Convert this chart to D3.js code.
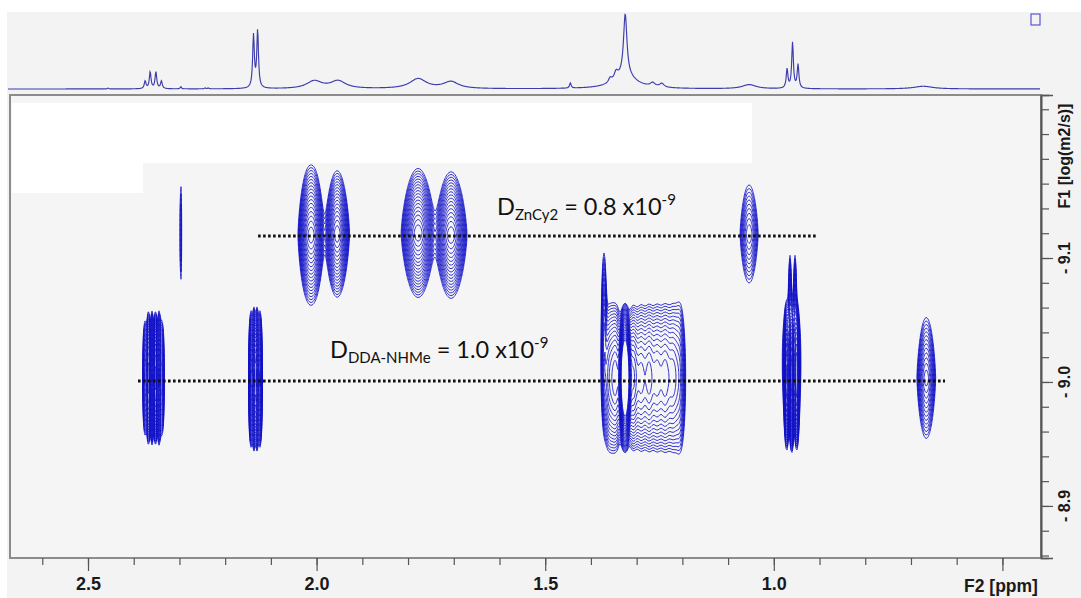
<!DOCTYPE html>
<html>
<head>
<meta charset="utf-8">
<script src="https://cdn.jsdelivr.net/npm/d3@7/dist/d3.min.js"></script>
<style>
  html, body { margin: 0; padding: 0; background: #ffffff; overflow: hidden; }
  svg { display: block; }
  .axlab { font-family: "Liberation Sans", Arial, sans-serif; font-weight: bold; fill: #1a1a1a; }
  .ann { font-family: Lato, "Open Sans", sans-serif; fill: #111; }
</style>
</head>
<body>
<svg id="chart" width="1081" height="598"></svg>
<script>
// ---------------- data ----------------
// F2 axis (ppm)
const f2Ticks = [2.6, 2.5, 2.4, 2.3, 2.2, 2.1, 2.0, 1.9, 1.8, 1.7, 1.6, 1.5, 1.4, 1.3, 1.2, 1.1, 1.0, 0.9, 0.8, 0.7, 0.6, 0.5];
const f2MajorTicks = [2.5, 2.0, 1.5, 1.0, 0.5];
const f2TickLabels = ["2.5", "2.0", "1.5", "1.0", ""];
const f2Title = "F2 [ppm]";
// F1 axis (log D)
const f1Ticks = [-9.22, -9.20, -9.18, -9.16, -9.14, -9.12, -9.10, -9.08, -9.06, -9.04, -9.02, -9.00, -8.98, -8.96, -8.94, -8.92, -8.90, -8.88, -8.86];
const f1MajorTicks = [-9.1, -9.0, -8.9];
const f1TickLabels = ["- 9.1", "- 9.0", "- 8.9"];
const f1Title = "F1 [log(m2/s)]";

// 1D projection spectrum (top trace): peak position (ppm), height (% of max), half width (ppm)
const specPpm    = [2.456, 2.375, 2.364, 2.3515, 2.3395, 2.297, 2.244, 2.237, 2.138, 2.129, 2.005, 1.953, 1.778, 1.706, 1.445,
                    1.358, 1.345, 1.325, 1.325, 1.265, 1.245, 1.054, 0.971, 0.959, 0.947, 0.673];
const specHeight = [1.2, 10, 22, 22, 10, 3, 1.2, 1.2, 69, 75, 10, 10, 13, 9, 7,
                    6, 10, 82, 16, 5, 5, 5.5, 25, 60, 31, 3.5];
const specHwhm   = [0.0015, 0.0022, 0.0022, 0.0022, 0.0022, 0.0015, 0.0015, 0.0015, 0.0022, 0.0022, 0.02, 0.02, 0.022, 0.02, 0.002,
                    0.004, 0.005, 0.0045, 0.03, 0.006, 0.006, 0.018, 0.0022, 0.0022, 0.0022, 0.025];

// DOSY cross peaks: F2 position (ppm), F1 position (log D), contour levels reached,
// outer half width (ppm), outer half span (log D), profile sharpness along F1
const peakPpm       = [2.297, 2.0186, 2.0055, 1.955, 1.778, 1.706, 1.054,
                       2.3753, 2.3677, 2.3600, 2.3524, 2.3447, 2.3382,
                       2.1435, 2.1370, 2.1304, 2.1238,
                       1.3714, 1.3603, 1.345, 1.3254, 1.308, 1.2904, 1.2729, 1.2554, 1.2379, 1.2204, 1.205,
                       0.9718, 0.9608, 0.9499, 0.9646, 0.9536, 0.9612,
                       0.6700, 0.6630];
const peakLogD      = [-9.1202, -9.1185, -9.1185, -9.1194, -9.1202, -9.1185, -9.1194,
                       -9.0032, -9.0032, -9.0032, -9.0032, -9.0032, -9.0032,
                       -9.0024, -9.0024, -9.0024, -9.0024,
                       -9.0419, -9.0032, -9.0032, -9.0032, -9.0032, -9.0032, -9.0032, -9.0032, -9.0032, -9.0032, -9.0032,
                       -9.0032, -9.0032, -9.0032, -9.0661, -9.0661, -9.0161,
                       -9.0032, -9.0032];
const peakLevels    = [3, 15, 15, 17, 18, 17, 10,
                       10, 16, 18, 18, 16, 10,
                       14, 18, 18, 14,
                       9, 12, 14, 34, 16, 14, 14, 13, 13, 12, 9,
                       16, 20, 16, 6, 6, 10,
                       9, 9];
const peakHalfWidth = [0.002, 0.022, 0.022, 0.027, 0.037, 0.035, 0.0197,
                       0.005, 0.005, 0.005, 0.005, 0.005, 0.005,
                       0.005, 0.005, 0.005, 0.005,
                       0.0055, 0.016, 0.016, 0.016, 0.016, 0.016, 0.016, 0.016, 0.016, 0.016, 0.012,
                       0.006, 0.006, 0.006, 0.003, 0.003, 0.02,
                       0.016, 0.016];
const peakHalfSpan  = [0.038, 0.050, 0.050, 0.051, 0.052, 0.051, 0.0395,
                       0.046, 0.054, 0.054, 0.054, 0.054, 0.046,
                       0.055, 0.058, 0.058, 0.055,
                       0.062, 0.058, 0.058, 0.06, 0.058, 0.058, 0.058, 0.058, 0.058, 0.058, 0.058,
                       0.058, 0.06, 0.058, 0.036, 0.036, 0.047,
                       0.038, 0.038];
const peakProfile   = [2.5, 1.4, 1.4, 1.4, 1.4, 1.4, 1.4,
                       2.5, 2.5, 2.5, 2.5, 2.5, 2.5,
                       2.5, 2.5, 2.5, 2.5,
                       2.0, 2.0, 2.0, 2.0, 2.0, 2.0, 2.0, 2.0, 2.0, 2.0, 2.0,
                       2.5, 2.5, 2.5, 2.5, 2.5, 2.5,
                       1.4, 1.4];

// guide lines (dotted) and their annotations
const guidePpmStart = [2.128, 2.3906];
const guidePpmEnd   = [0.9055, 0.6255];
const guideLogD     = [-9.1177, -9.0008];
const annSub   = ["ZnCy2", "DDA-NHMe"];
const annValue = ["0.8", "1.0"];
const annExp   = ["-9", "-9"];

// ---------------- drawing ----------------
const svg = d3.select("#chart");
const x = d3.scaleLinear().domain([2.6706, 0.4156]).range([10, 1041]);
const y = d3.scaleLinear().domain([-9.2315, -8.858]).range([95, 558]);
const yTop = d3.scaleLinear().domain([0, 100]).range([89, 13]);

// backgrounds
svg.append("rect").attr("x", 0).attr("y", 0).attr("width", 1081).attr("height", 598).attr("fill", "#ffffff");
svg.append("rect").attr("x", 7).attr("y", 12).attr("width", 1074).attr("height", 586).attr("fill", "#f3f3f3");
svg.append("rect").attr("x", 10).attr("y", 95).attr("width", 1031).attr("height", 463).attr("fill", "#f5f5f5");
// white masks inside plot
svg.append("rect").attr("x", 12).attr("y", 103).attr("width", 740).attr("height", 60).attr("fill", "#ffffff");
svg.append("rect").attr("x", 12).attr("y", 162).attr("width", 131).attr("height", 31).attr("fill", "#ffffff");

// top 1D trace
const tracePts = d3.range(8, 1040.5, 0.5).map(px => {
  const p = x.invert(px);
  let s = 0;
  for (let k = 0; k < specPpm.length; k++) {
    const u = (p - specPpm[k]) / specHwhm[k];
    s += specHeight[k] / (1 + u * u);
  }
  return [p, s];
});
svg.append("path")
  .attr("d", d3.line().x(d => x(d[0])).y(d => yTop(d[1]))(tracePts))
  .attr("fill", "none").attr("stroke", "#3c3cac").attr("stroke-width", 1.15);
svg.append("rect").attr("x", 1031).attr("y", 14).attr("width", 9).attr("height", 11)
  .attr("fill", "none").attr("stroke", "#4a4acc").attr("stroke-width", 1.1);

// contour grid
const gx0 = 10, gx1 = 1041, gy0 = 95, gy1 = 558, gdx = 1, gdy = 1.25;
const nx = Math.round((gx1 - gx0) / gdx) + 1, ny = Math.round((gy1 - gy0) / gdy) + 1;
const ppmAt = i => x.invert(gx0 + i * gdx);
const logDAt = j => y.invert(gy0 + j * gdy);
const vals = new Float64Array(nx * ny);
const ratio = 1.18, K = 26;
for (let k = 0; k < peakPpm.length; k++) {
  const n = peakLevels[k], q = peakProfile[k];
  const R = 2 * n * Math.log(ratio);
  const sp = peakHalfWidth[k] / Math.sqrt(R);
  const sd = peakHalfSpan[k] / Math.pow(R, 1 / q);
  const A = Math.pow(ratio, n);
  const xc = x(peakPpm[k]), yc = y(peakLogD[k]);
  const xw = Math.abs(x(peakPpm[k] + peakHalfWidth[k]) - xc) * 3 + 4;
  const yh = Math.abs(y(peakLogD[k] + peakHalfSpan[k]) - yc) * 2.2 + 4;
  const i0 = Math.max(0, Math.floor((xc - xw - gx0) / gdx)), i1 = Math.min(nx - 1, Math.ceil((xc + xw - gx0) / gdx));
  const j0 = Math.max(0, Math.floor((yc - yh - gy0) / gdy)), j1 = Math.min(ny - 1, Math.ceil((yc + yh - gy0) / gdy));
  for (let j = j0; j <= j1; j++) {
    const dd = Math.abs(logDAt(j) - peakLogD[k]) / sd;
    const ey = Math.pow(dd, q);
    for (let i = i0; i <= i1; i++) {
      const dp = (ppmAt(i) - peakPpm[k]) / sp;
      vals[j * nx + i] += A * Math.exp(-0.5 * (dp * dp + ey));
    }
  }
}
const thresholds = d3.range(K).map(k => Math.pow(ratio, k));
const contours = d3.contours().size([nx, ny]).thresholds(thresholds)(vals);
const proj = d3.geoTransform({
  point: function (gx, gy) { this.stream.point(x(ppmAt(gx - 0.5)), y(logDAt(gy - 0.5))); }
});
const cpath = d3.geoPath(proj);
svg.append("g").selectAll("path").data(contours).join("path")
  .attr("d", cpath).attr("fill", "none").attr("stroke", "#1212c6").attr("stroke-width", 0.85);

// dotted guide lines
svg.append("g").selectAll("line").data(guideLogD).join("line")
  .attr("x1", (d, i) => x(guidePpmStart[i])).attr("x2", (d, i) => x(guidePpmEnd[i]))
  .attr("y1", d => y(d)).attr("y2", d => y(d))
  .attr("stroke", "#111").attr("stroke-width", 3).attr("stroke-dasharray", "2.6 2.4");

// annotations
const annPos = [[497, 215], [330, 358]];
annSub.forEach((s, i) => {
  const t = svg.append("text").attr("class", "ann").attr("x", annPos[i][0]).attr("y", annPos[i][1]).attr("font-size", 23.5);
  t.append("tspan").text("D");
  t.append("tspan").attr("font-size", 15).attr("dy", 5).text(s);
  t.append("tspan").attr("dy", -5).text(" = " + annValue[i] + " x10");
  t.append("tspan").attr("font-size", 15).attr("dy", -10).text(annExp[i]);
});

// plot frame
svg.append("rect").attr("x", 10).attr("y", 95).attr("width", 1031).attr("height", 463)
  .attr("fill", "none").attr("stroke", "#8c8c8c").attr("stroke-width", 2);

// bottom axis
const gB = svg.append("g").attr("transform", "translate(0,558)");
gB.call(d3.axisBottom(x).tickValues(f2Ticks).tickSize(7).tickFormat(""));
gB.append("g").call(d3.axisBottom(x).tickValues(f2MajorTicks).tickSize(13).tickPadding(6)
  .tickFormat((d, i) => f2TickLabels[i]));
gB.selectAll(".domain").remove();
gB.selectAll("line").attr("stroke", "#555").attr("stroke-width", 1.2);
gB.selectAll("text").attr("class", "axlab").attr("font-size", 18).attr("fill", "#1a1a1a")
  .style("font-family", "'Liberation Sans', Arial, sans-serif").style("font-weight", "bold");
svg.append("text").attr("class", "axlab").attr("x", 1001).attr("y", 592).attr("text-anchor", "middle")
  .attr("font-size", 17.5).text(f2Title);

// right axis
const gR = svg.append("g").attr("transform", "translate(1041,0)");
gR.call(d3.axisRight(y).tickValues(f1Ticks).tickSize(8).tickFormat(""));
gR.append("g").call(d3.axisRight(y).tickValues(f1MajorTicks).tickSize(12).tickFormat(""));
gR.selectAll(".domain").attr("stroke", "#555").attr("stroke-width", 1.6);
gR.selectAll("line").attr("stroke", "#555").attr("stroke-width", 1.2);
svg.append("g").selectAll("text").data(f1MajorTicks).join("text")
  .attr("class", "axlab").attr("font-size", 16).attr("text-anchor", "middle").attr("dominant-baseline", "central")
  .attr("transform", d => `translate(1064,${y(d)}) rotate(-90)`)
  .text((d, i) => f1TickLabels[i]);
svg.append("text").attr("class", "axlab").attr("font-size", 16).attr("text-anchor", "middle").attr("dominant-baseline", "central")
  .attr("transform", "translate(1064,156) rotate(-90)").text(f1Title);
</script>
</body>
</html>
